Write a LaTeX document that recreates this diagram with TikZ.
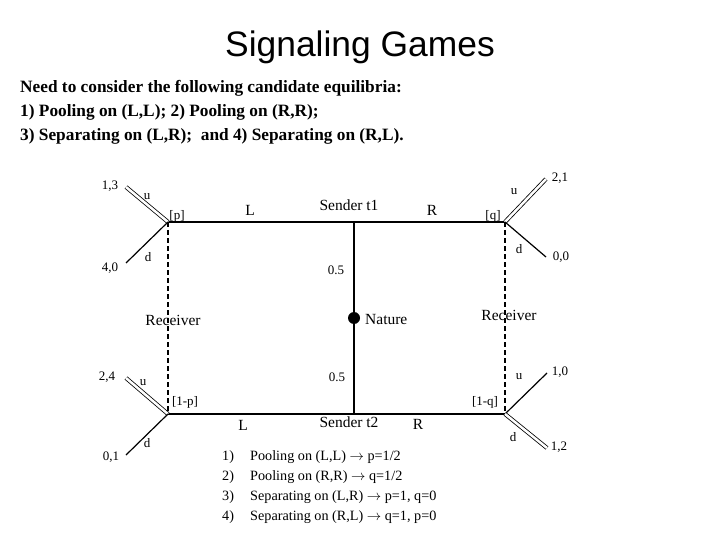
\documentclass[tikz,border=0pt]{standalone}
\usepackage{fontspec}
\setmainfont{Liberation Serif}
\newfontfamily\titlefont{Liberation Sans}
\begin{document}
\begin{tikzpicture}[x=1pt,y=-1pt,
  lbl/.style={inner sep=0pt,font=\fontsize{13}{13}\selectfont},
  big/.style={inner sep=0pt,font=\fontsize{15.5}{15.5}\selectfont},
  intro/.style={inner sep=0pt,anchor=west,font=\fontsize{17.3}{17.3}\selectfont\bfseries},
  item/.style={inner sep=0pt,anchor=west,font=\fontsize{14.2}{14.2}\selectfont},
  edge/.style={line width=1.2pt},
  info/.style={line width=1.2pt,dash pattern=on 5pt off 3pt},
  choice/.style={line width=0.8pt,double,double distance=2.5pt},
  dec/.style={inner sep=0pt,minimum size=0pt}]
\useasboundingbox (0,0) rectangle (720,540);
% title and intro
\node[inner sep=0pt,font=\fontsize{35.4}{35.4}\selectfont\titlefont] (title) at (360,47) {Signaling Games};
\node[intro] (i1) at (20,88) {Need to consider the following candidate equilibria:};
\node[intro] (i2) at (20,112) {1) Pooling on (L,L); 2) Pooling on (R,R);};
\node[intro] (i3) at (20,136) {3) Separating on (L,R);\ \ and 4) Separating on (R,L).};
% decision nodes
\coordinate (a) at (168,222);
\coordinate (b) at (505,222);
\coordinate (c) at (168,414);
\coordinate (e) at (505,414);
\coordinate (s1) at (354,222);
\coordinate (s2) at (354,414);
\node[circle,fill=black,inner sep=0pt,minimum size=12pt] (nat) at (354,318) {};
% end points
\coordinate (au) at (126,187);
\coordinate (ad) at (126,263);
\coordinate (bu) at (546,179);
\coordinate (bd) at (546,257);
\coordinate (cu) at (126,378);
\coordinate (cd) at (126,455);
\coordinate (eu) at (547,373);
\coordinate (ed) at (547,448);
% tree
\draw[edge] (a) -- (s1) -- (b);
\draw[edge] (c) -- (s2) -- (e);
\draw[edge] (s1) -- (nat) -- (s2);
\draw[info] (a) -- (c);
\draw[info] (b) -- (e);
\draw[choice] (a) -- (au);
\draw[edge] (a) -- (ad);
\draw[choice] (b) -- (bu);
\draw[edge] (b) -- (bd);
\draw[choice] (c) -- (cu);
\draw[edge] (c) -- (cd);
\draw[edge] (e) -- (eu);
\draw[choice] (e) -- (ed);
% labels
\node[lbl] (p13) at (110,186) {1,3};
\node[lbl] (p40) at (110,268) {4,0};
\node[lbl] (p21) at (560,178) {2,1};
\node[lbl] (p00) at (561,257) {0,0};
\node[lbl] (p24) at (107,377) {2,4};
\node[lbl] (p01) at (111,457) {0,1};
\node[lbl] (p10) at (560,372) {1,0};
\node[lbl] (p12) at (559,447) {1,2};
\node[lbl] (ua) at (147,197) {u};
\node[lbl] (da) at (148,257) {d};
\node[lbl] (ub) at (514,192) {u};
\node[lbl] (db) at (519,249) {d};
\node[lbl] (uc) at (143,383) {u};
\node[lbl] (dc) at (147,443) {d};
\node[lbl] (ue) at (519,377) {u};
\node[lbl] (de) at (513,437) {d};
\node[lbl] (pp) at (177,216) {[p]};
\node[lbl] (qq) at (493,216) {[q]};
\node[lbl] (pp2) at (185,402) {[1-p]};
\node[lbl] (qq2) at (485,402) {[1-q]};
\node[big] (L1) at (250,210) {L};
\node[big] (R1) at (432,210) {R};
\node[big] (L2) at (243,425) {L};
\node[big] (R2) at (418,424) {R};
\node[big] (st1) at (349,205) {Sender t1};
\node[big] (st2) at (349,422) {Sender t2};
\node[lbl] (h1) at (336,270) {0.5};
\node[lbl] (h2) at (337,377) {0.5};
\node[big] (rec1) at (173,320) {Receiver};
\node[big] (rec2) at (509,315) {Receiver};
\node[big,anchor=west] (natl) at (365,319) {Nature};
% list
\node[item] (n1) at (222,457) {1)};
\node[item] (n2) at (222,477) {2)};
\node[item] (n3) at (222,497) {3)};
\node[item] (n4) at (222,517) {4)};
\node[item] (l1) at (250,457) {Pooling on (L,L) $\rightarrow$ p=1/2};
\node[item] (l2) at (250,477) {Pooling on (R,R) $\rightarrow$ q=1/2};
\node[item] (l3) at (250,497) {Separating on (L,R) $\rightarrow$ p=1, q=0};
\node[item] (l4) at (250,517) {Separating on (R,L) $\rightarrow$ q=1, p=0};
\end{tikzpicture}
\end{document}
